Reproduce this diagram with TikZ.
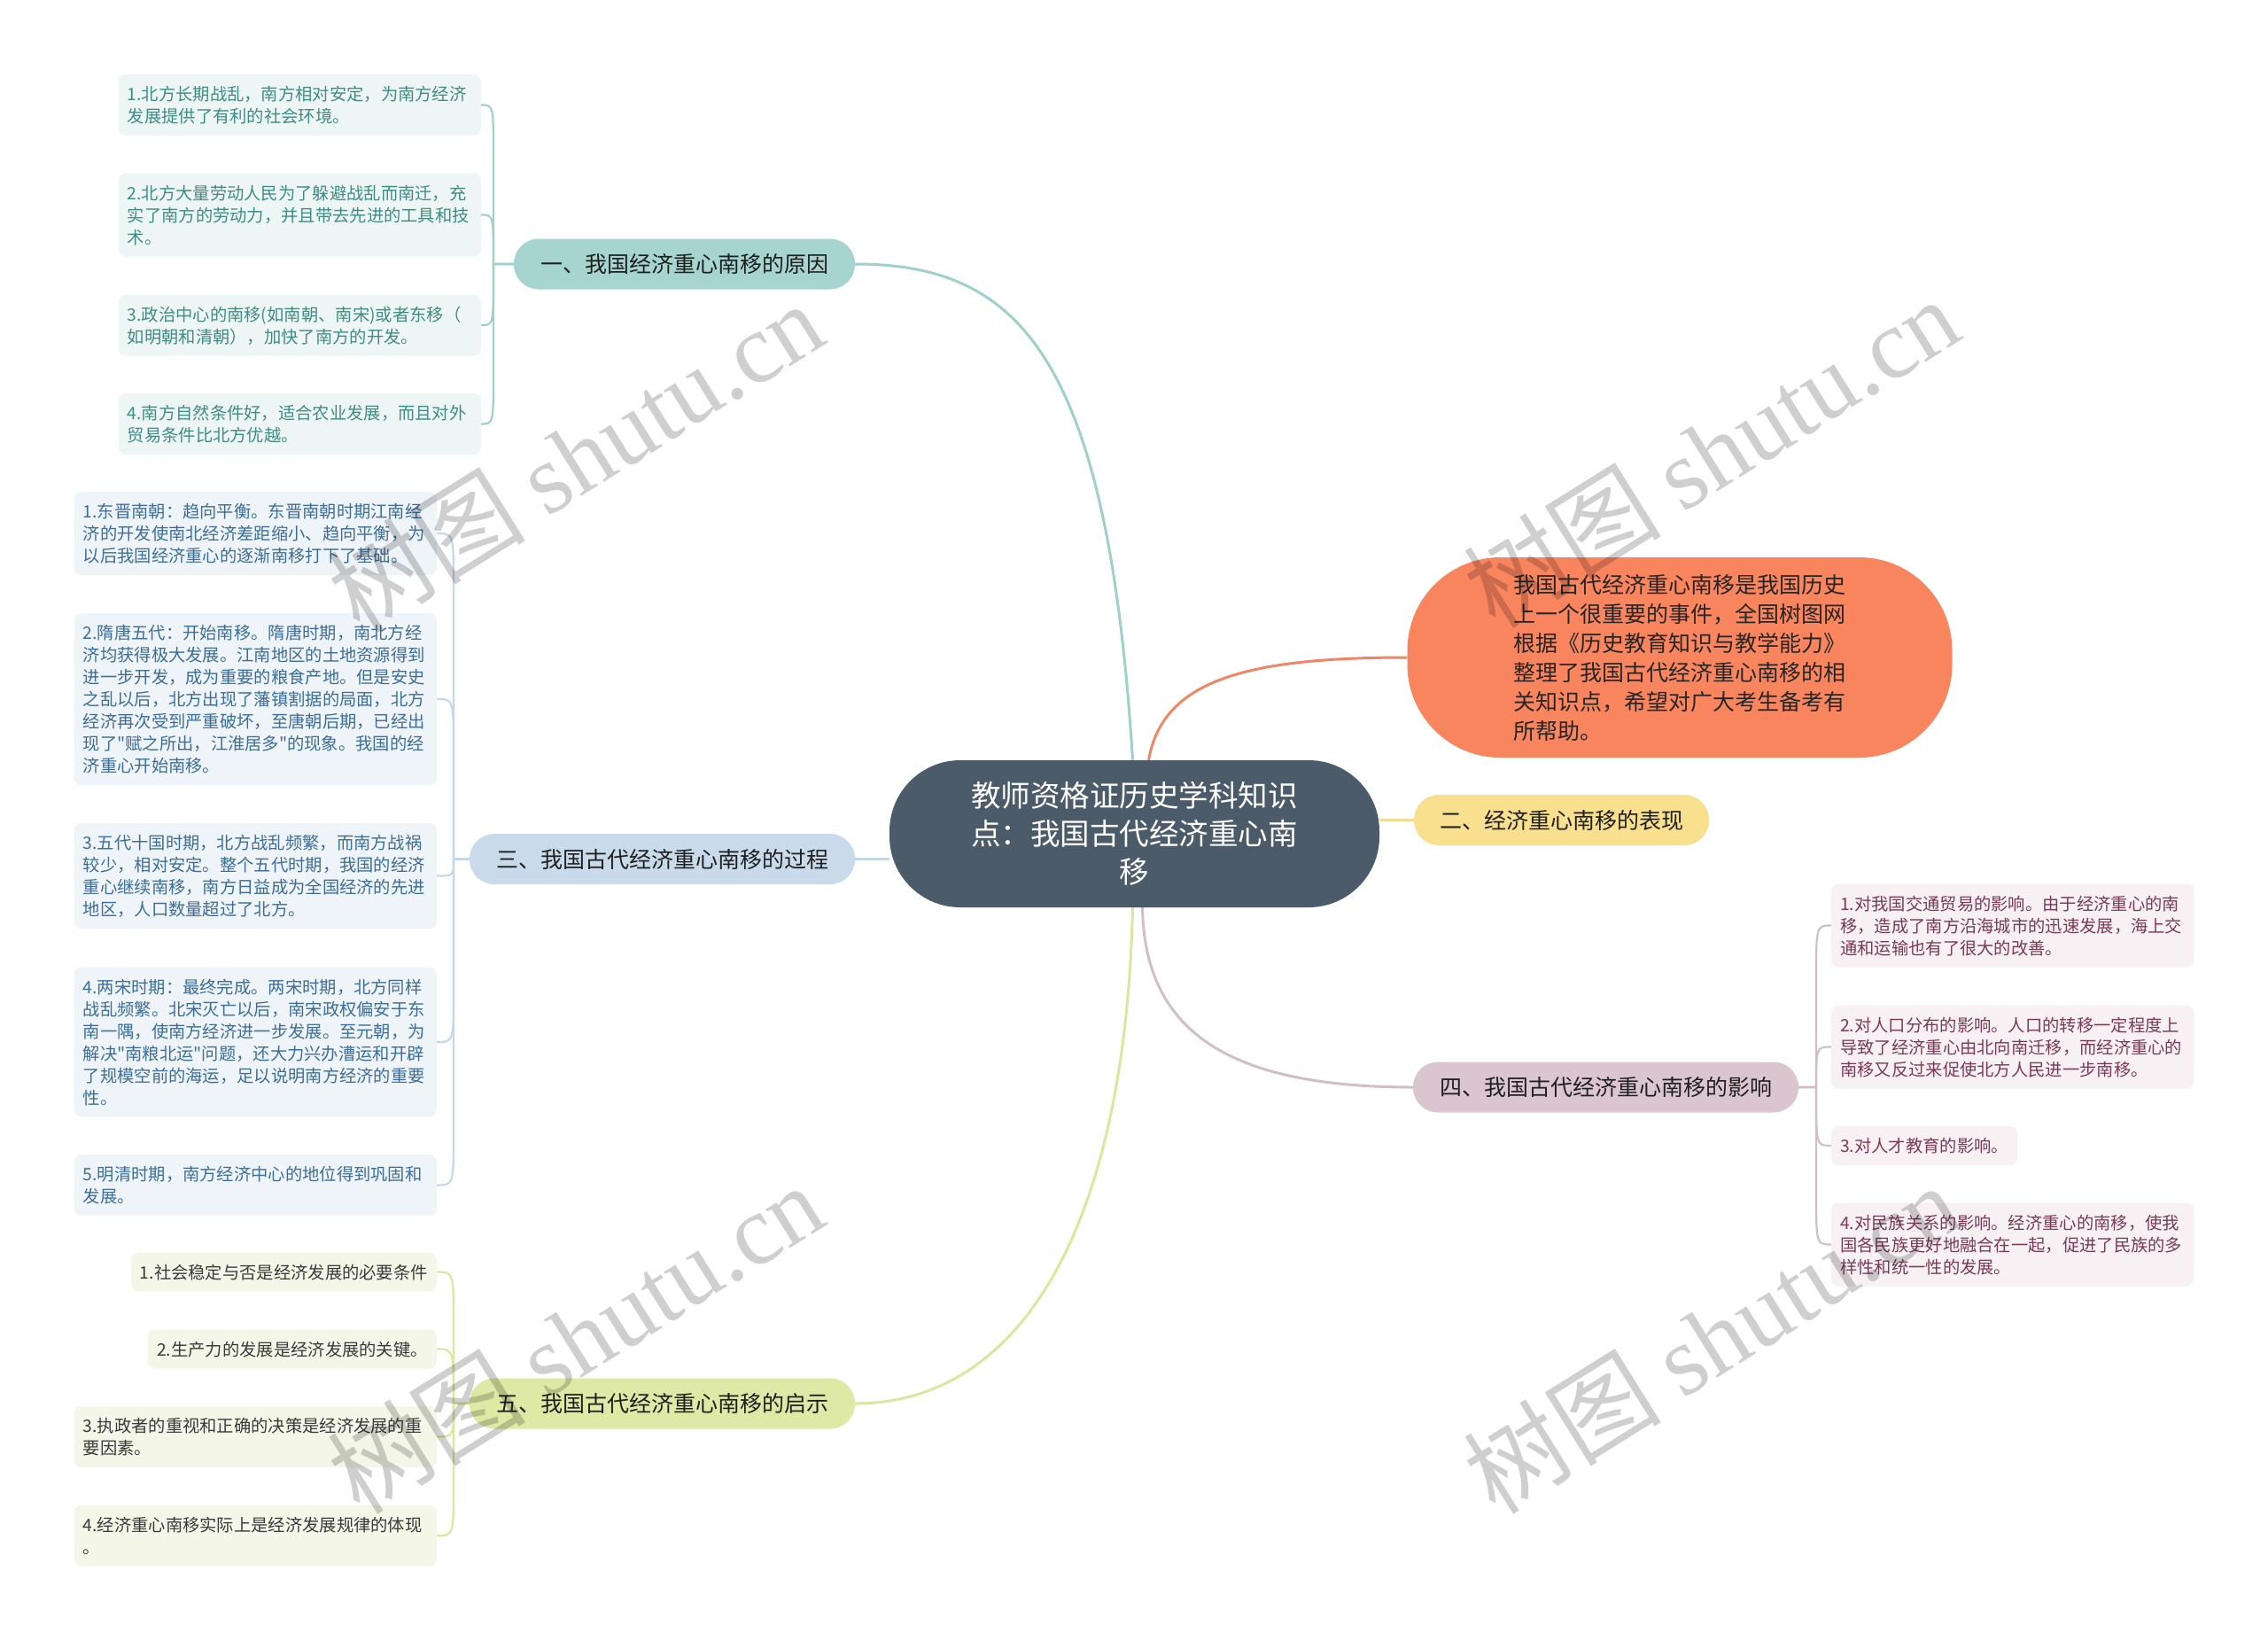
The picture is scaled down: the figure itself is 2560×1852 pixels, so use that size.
\documentclass[tikz,border=0pt]{standalone}
\usepackage{fontspec}
\setmainfont{Noto Sans CJK SC}
\newfontfamily\qf{Noto Sans CJK SC}
\newfontfamily\wmlat{Liberation Serif}
\pgfdeclarelayer{bg}
\pgfsetlayers{bg,main}
\definecolor{cen}{HTML}{4B5B6A}
\definecolor{ora}{HTML}{F9855F}
\definecolor{oraL}{HTML}{EF8766}
\definecolor{yel}{HTML}{F8E08F}
\definecolor{yelL}{HTML}{F3DC8E}
\definecolor{tea}{HTML}{A6D5D0}
\definecolor{teaL}{HTML}{9FD0CA}
\definecolor{teaF}{HTML}{EEF6F5}
\definecolor{teaT}{HTML}{3F8C82}
\definecolor{blu}{HTML}{C9DBEB}
\definecolor{bluL}{HTML}{C5D8EA}
\definecolor{bluF}{HTML}{EFF4F9}
\definecolor{bluT}{HTML}{3B6E9A}
\definecolor{grn}{HTML}{DDE9A4}
\definecolor{grnL}{HTML}{DCE69E}
\definecolor{grnF}{HTML}{F4F7E7}
\definecolor{grnT}{HTML}{3A3A3A}
\definecolor{pnk}{HTML}{DBC6CF}
\definecolor{pnkL}{HTML}{D2BEC7}
\definecolor{pnkF}{HTML}{F7F1F3}
\definecolor{pnkT}{HTML}{7B3A55}
\newcommand\mytopst{\rule{0pt}{20pt}}
\newcommand\mybotst{\rule[-5pt]{0pt}{5pt}}
\newcommand\dq{{\qf"}}
\begin{document}
\begin{tikzpicture}[x=1pt,y=-1pt,
  leaf/.style={rounded corners=8pt, inner xsep=10pt, inner ysep=9.5pt,
    font=\fontsize{19.3}{25}\selectfont, align=left,
    execute at begin node=\mytopst, execute at end node=\mybotst},
  wide/.style={text width=389pt},
  leafA/.style={leaf, fill=teaF, text=teaT},
  leafB/.style={leaf, fill=bluF, text=bluT},
  leafC/.style={leaf, fill=grnF, text=grnT},
  leafD/.style={leaf, fill=pnkF, text=pnkT},
  branch/.style={rounded corners=28pt, minimum height=57pt, inner xsep=29pt,
    font=\fontsize{25}{30}\selectfont, text=black!88},
  mainln/.style={line width=3pt},
  leafln/.style={line width=2.2pt},
  wmark/.style={rotate=32, text=black, opacity=0.19,
    font=\fontsize{112}{112}\selectfont}
]
\useasboundingbox (0,0) rectangle (2560,1852);
\begin{pgfonlayer}{bg}
\fill[white] (0,0) rectangle (2560,1852);
\end{pgfonlayer}

% central
\node[fill=cen, text=white, rounded corners=80pt, minimum width=553pt,
  minimum height=166pt, align=center,
  font=\fontsize{33.5}{43}\selectfont] (c) at (1280.5,941)
  {教师资格证历史学科知识\\点：我国古代经济重心南\\移};

% intro
\node[fill=ora, text=black!85, rounded corners=105pt, minimum width=615pt,
  minimum height=226pt, align=left,
  font=\fontsize{25}{33}\selectfont] (o) at (1896,742)
  {我国古代经济重心南移是我国历史\\上一个很重要的事件，全国树图网\\根据《历史教育知识与教学能力》\\整理了我国古代经济重心南移的相\\关知识点，希望对广大考生备考有\\所帮助。};

% branches
\node[branch, fill=tea, minimum width=385pt] (b1) at (772.5,298) {一、我国经济重心南移的原因};
\node[branch, fill=yel, minimum width=331pt] (b2) at (1762.5,925.5) {二、经济重心南移的表现};
\node[branch, fill=blu, minimum width=435pt] (b3) at (747.5,969.5) {三、我国古代经济重心南移的过程};
\node[branch, fill=pnk, minimum width=435pt] (b4) at (1812.5,1227) {四、我国古代经济重心南移的影响};
\node[branch, fill=grn, minimum width=435pt] (b5) at (747.5,1584) {五、我国古代经济重心南移的启示};

% leaves of b1
\node[leafA, wide, anchor=east] (a1) at (543,118.5) {1.北方长期战乱，南方相对安定，为南方经济\\发展提供了有利的社会环境。};
\node[leafA, wide, anchor=east] (a2) at (543,242.5) {2.北方大量劳动人民为了躲避战乱而南迁，充\\实了南方的劳动力，并且带去先进的工具和技\\术。};
\node[leafA, wide, anchor=east] (a3) at (543,367) {3.政治中心的南移(如南朝、南宋)或者东移（\\如明朝和清朝），加快了南方的开发。};
\node[leafA, wide, anchor=east] (a4) at (543,478.5) {4.南方自然条件好，适合农业发展，而且对外\\贸易条件比北方优越。};

% leaves of b3
\node[leafB, wide, anchor=east] (p1) at (493,602) {1.东晋南朝：趋向平衡。东晋南朝时期江南经\\济的开发使南北经济差距缩小、趋向平衡，为\\以后我国经济重心的逐渐南移打下了基础。};
\node[leafB, wide, anchor=east] (p2) at (493,789) {2.隋唐五代：开始南移。隋唐时期，南北方经\\济均获得极大发展。江南地区的土地资源得到\\进一步开发，成为重要的粮食产地。但是安史\\之乱以后，北方出现了藩镇割据的局面，北方\\经济再次受到严重破坏，至唐朝后期，已经出\\现了\dq 赋之所出，江淮居多\dq 的现象。我国的经\\济重心开始南移。};
\node[leafB, wide, anchor=east] (p3) at (493,988.5) {3.五代十国时期，北方战乱频繁，而南方战祸\\较少，相对安定。整个五代时期，我国的经济\\重心继续南移，南方日益成为全国经济的先进\\地区，人口数量超过了北方。};
\node[leafB, wide, anchor=east] (p4) at (493,1176) {4.两宋时期：最终完成。两宋时期，北方同样\\战乱频繁。北宋灭亡以后，南宋政权偏安于东\\南一隅，使南方经济进一步发展。至元朝，为\\解决\dq 南粮北运\dq 问题，还大力兴办漕运和开辟\\了规模空前的海运，足以说明南方经济的重要\\性。};
\node[leafB, wide, anchor=east] (p5) at (493,1337.5) {5.明清时期，南方经济中心的地位得到巩固和\\发展。};

% leaves of b5
\node[leafC, anchor=east] (q1) at (493,1435.5) {1.社会稳定与否是经济发展的必要条件};
\node[leafC, anchor=east] (q2) at (493,1522.5) {2.生产力的发展是经济发展的关键。};
\node[leafC, wide, anchor=east] (q3) at (493,1621.5) {3.执政者的重视和正确的决策是经济发展的重\\要因素。};
\node[leafC, wide, anchor=east] (q4) at (493,1733) {4.经济重心南移实际上是经济发展规律的体现\\。};

% leaves of b4
\node[leafD, wide, anchor=west] (r1) at (2067,1044.5) {1.对我国交通贸易的影响。由于经济重心的南\\移，造成了南方沿海城市的迅速发展，海上交\\通和运输也有了很大的改善。};
\node[leafD, wide, anchor=west] (r2) at (2067,1181.5) {2.对人口分布的影响。人口的转移一定程度上\\导致了经济重心由北向南迁移，而经济重心的\\南移又反过来促使北方人民进一步南移。};
\node[leafD, anchor=west] (r3) at (2067,1293) {3.对人才教育的影响。};
\node[leafD, wide, anchor=west] (r4) at (2067,1404.5) {4.对民族关系的影响。经济重心的南移，使我\\国各民族更好地融合在一起，促进了民族的多\\样性和统一性的发展。};

\begin{pgfonlayer}{bg}
% main connectors
\draw[mainln, teaL] ([xshift=-2pt]c.north) .. controls (1250,400) and (1150,298) .. (b1.east);
\draw[mainln, oraL] ([xshift=16pt]c.north) .. controls (1312,770) and (1400,742) .. (o.west);
\draw[mainln, yelL] (c.east |- b2.west) -- (b2.west);
\draw[mainln, bluL] (c.west |- b3.east) -- (b3.east);
\draw[mainln, pnkL] ([xshift=9pt]c.south) .. controls (1292,1160) and (1380,1227) .. (b4.west);
\draw[mainln, grnL] ([xshift=-2pt]c.south) .. controls (1270,1390) and (1150,1584) .. (b5.east);

% leaf connectors b1
\draw[leafln, teaL] (b1.west) -- (557,298) -- (557,178.5) .. controls (557,118.5) .. (a1.east);
\draw[leafln, teaL] (b1.west) -- (557,298) .. controls (557,242.5) .. (a2.east);
\draw[leafln, teaL] (b1.west) -- (557,298) -- (557,307) .. controls (557,367) .. (a3.east);
\draw[leafln, teaL] (b1.west) -- (557,298) -- (557,418.5) .. controls (557,478.5) .. (a4.east);
% leaf connectors b3
\draw[leafln, bluL] (b3.west) -- (512,969.5) -- (512,662) .. controls (512,602) .. (p1.east);
\draw[leafln, bluL] (b3.west) -- (512,969.5) -- (512,849) .. controls (512,789) .. (p2.east);
\draw[leafln, bluL] (b3.west) -- (512,969.5) .. controls (512,988.5) .. (p3.east);
\draw[leafln, bluL] (b3.west) -- (512,969.5) -- (512,1116) .. controls (512,1176) .. (p4.east);
\draw[leafln, bluL] (b3.west) -- (512,969.5) -- (512,1277.5) .. controls (512,1337.5) .. (p5.east);
% leaf connectors b5
\draw[leafln, grnL] (b5.west) -- (512,1584) -- (512,1495.5) .. controls (512,1435.5) .. (q1.east);
\draw[leafln, grnL] (b5.west) -- (512,1584) .. controls (512,1522.5) .. (q2.east);
\draw[leafln, grnL] (b5.west) -- (512,1584) .. controls (512,1621.5) .. (q3.east);
\draw[leafln, grnL] (b5.west) -- (512,1584) -- (512,1673) .. controls (512,1733) .. (q4.east);
% leaf connectors b4
\draw[leafln, pnkL] (b4.east) -- (2050,1227) -- (2050,1104.5) .. controls (2050,1044.5) .. (r1.west);
\draw[leafln, pnkL] (b4.east) -- (2050,1227) .. controls (2050,1181.5) .. (r2.west);
\draw[leafln, pnkL] (b4.east) -- (2050,1227) -- (2050,1233) .. controls (2050,1293) .. (r3.west);
\draw[leafln, pnkL] (b4.east) -- (2050,1227) -- (2050,1344.5) .. controls (2050,1404.5) .. (r4.west);
\end{pgfonlayer}

% watermarks
\node[wmark] (w1) at (649,515) {树图 {\wmlat shutu.cn}};
\node[wmark] (w2) at (1931,510) {树图 {\wmlat shutu.cn}};
\node[wmark] (w3) at (649,1510) {树图 {\wmlat shutu.cn}};
\node[wmark] (w4) at (1931,1510) {树图 {\wmlat shutu.cn}};
\end{tikzpicture}
\end{document}
